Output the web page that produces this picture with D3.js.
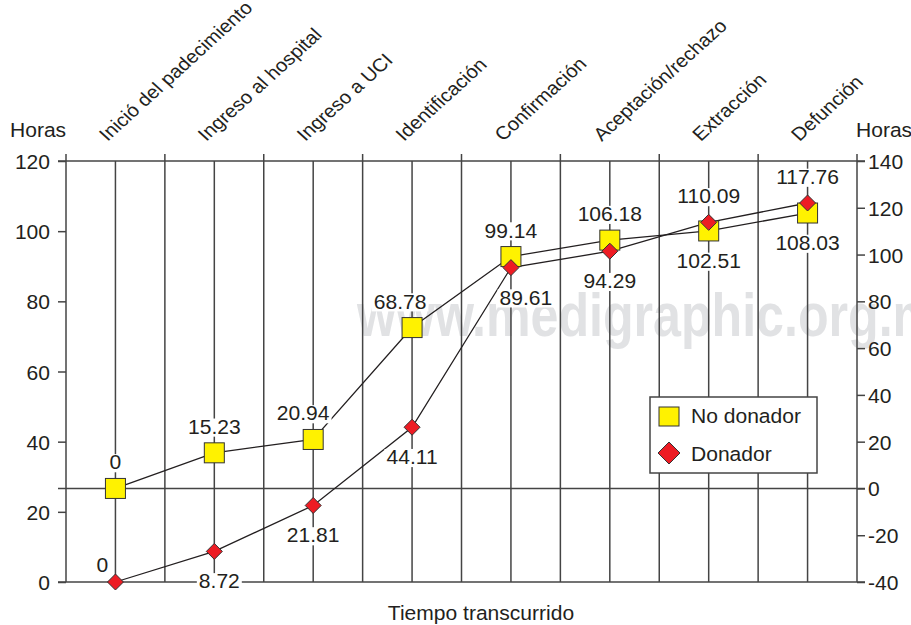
<!DOCTYPE html>
<html>
<head>
<meta charset="utf-8">
<script src="https://cdn.jsdelivr.net/npm/d3@7"></script>
<style>
  body { margin: 0; background: #fff; }
  text { font-family: "Liberation Sans", Arial, Helvetica, sans-serif; fill: #231f20; }
</style>
</head>
<body>
<div id="chart"></div>
<script>
const categories = [
    "Inició del padecimiento", "Ingreso al hospital", "Ingreso a UCI", "Identificación",
    "Confirmación", "Aceptación/rechazo", "Extracción", "Defunción"
];
const noDonador = [0, 15.23, 20.94, 68.78, 99.14, 106.18, 110.09, 117.76];   // right axis
const donador = [0, 8.72, 21.81, 44.11, 89.61, 94.29, 102.51, 108.03];       // left axis
const leftTicks = [0, 20, 40, 60, 80, 100, 120];
const rightTicks = [-40, -20, 0, 20, 40, 60, 80, 100, 120, 140];

function drawChart(containerId) {
    const W = 911, H = 625;
    const left = 66, right = 857, top = 161, bottom = 582;
    const ink = "#231f20", grid = "#444";
    const fs = 19.5, sx = 1.08;   // the source type is slightly stretched horizontally

    d3.select(`#${containerId}`).selectAll("*").remove();
    const svg = d3.select(`#${containerId}`)
        .append("svg")
        .attr("width", W)
        .attr("height", H);

    // helper: stretched text at (x, y)
    function label(g, tx, ty, str, anchor) {
        return g.append("text")
            .attr("transform", `translate(${tx},${ty}) scale(${sx},1)`)
            .attr("font-size", fs)
            .attr("text-anchor", anchor || "start")
            .text(str);
    }

    const x = d3.scalePoint().domain(categories).range([left, right]).padding(0.5);
    const yL = d3.scaleLinear().domain([0, 120]).range([bottom, top]);
    const yR = d3.scaleLinear().domain([-40, 140]).range([bottom, top]);
    const step = x.step();

    // watermark
    svg.append("text")
        .attr("x", 357).attr("y", 336)
        .attr("font-size", 62).attr("font-weight", "bold")
        .attr("textLength", 608).attr("lengthAdjust", "spacingAndGlyphs")
        .style("fill", "#e1e2e4")
        .text("www.medigraphic.org.mx");

    // vertical grid: band edges (with small top tick) and category centres
    const edges = d3.range(categories.length + 1).map(i => left + i * step);
    svg.selectAll(".edge").data(edges).join("line")
        .attr("x1", d => d).attr("x2", d => d)
        .attr("y1", top - 7).attr("y2", bottom)
        .attr("stroke", grid).attr("stroke-width", 1.5);
    svg.selectAll(".centre").data(categories).join("line")
        .attr("x1", d => x(d)).attr("x2", d => x(d))
        .attr("y1", top).attr("y2", bottom)
        .attr("stroke", grid).attr("stroke-width", 1.5);

    // horizontal frame lines + right-axis zero
    [top, bottom, yR(0)].forEach(yy => {
        svg.append("line")
            .attr("x1", left - 8).attr("x2", right + 8)
            .attr("y1", yy).attr("y2", yy)
            .attr("stroke", grid).attr("stroke-width", 1.5);
    });

    // Left axis
    const gL = svg.append("g")
        .attr("transform", `translate(${left},0)`)
        .call(d3.axisLeft(yL).tickValues(leftTicks).tickSize(8).tickPadding(8));
    // Right axis
    const gR = svg.append("g")
        .attr("transform", `translate(${right},0)`)
        .call(d3.axisRight(yR).tickValues(rightTicks).tickSize(8).tickPadding(3));
    [gL, gR].forEach(g => {
        g.select(".domain").remove();
        g.selectAll(".tick line").attr("stroke", grid).attr("stroke-width", 1.5);
        g.selectAll(".tick text").remove();
    });
    gL.selectAll(".tick").each(function (d) {
        label(d3.select(this), -16, 7.5, d, "end");
    });
    gR.selectAll(".tick").each(function (d) {
        label(d3.select(this), 11, 7.5, d, "start");
    });

    // axis titles
    label(svg, 10, 137, "Horas");
    label(svg, 856, 137, "Horas");
    label(svg, 481, 620, "Tiempo transcurrido", "middle");

    // rotated category labels
    svg.selectAll(".cat").data(categories).join("text")
        .attr("font-size", 18.5)
        .attr("transform", d => `translate(${x(d) - 8},142) scale(1.1,1) rotate(-45)`)
        .text(d => d);

    // series lines
    const lineR = d3.line().x((d, i) => x(categories[i])).y(d => yR(d));
    const lineL = d3.line().x((d, i) => x(categories[i])).y(d => yL(d));
    svg.append("path").datum(noDonador)
        .attr("fill", "none").attr("stroke", ink).attr("stroke-width", 1.3)
        .attr("d", lineR);
    svg.append("path").datum(donador)
        .attr("fill", "none").attr("stroke", ink).attr("stroke-width", 1.3)
        .attr("d", lineL);

    // value labels: No donador above the pair, Donador below the pair
    const shiftX = { "68.78": -12, "20.94": -10, "89.61": 15, "8.72": 5 };
    const labels = [];
    categories.forEach((c, i) => {
        const ys = yR(noDonador[i]), yd = yL(donador[i]);
        const cx = x(c);
        labels.push({ v: noDonador[i], x: cx, y: Math.min(ys, yd) - 19 });
        let by = Math.max(ys, yd) + 37;
        if (by > H - 20) labels.push({ v: donador[i], x: cx - 13, y: yd - 10 });
        else labels.push({ v: donador[i], x: cx, y: by });
    });
    const lg = svg.append("g");
    labels.forEach(l => {
        const txt = String(l.v);
        const tx = l.x + (shiftX[txt] || 0);
        const t = label(lg, tx, l.y, txt, "middle");
        const b = t.node().getBBox();
        lg.insert("rect", () => t.node())
            .attr("x", tx + b.x * sx - 2).attr("y", l.y + b.y + 2)
            .attr("width", b.width * sx + 4).attr("height", b.height - 3)
            .attr("fill", "#fff");
    });

    // markers
    const sq = 20, dm = 8;
    svg.selectAll(".sq").data(noDonador).join("rect")
        .attr("x", (d, i) => x(categories[i]) - sq / 2)
        .attr("y", d => yR(d) - sq / 2)
        .attr("width", sq).attr("height", sq)
        .attr("fill", "#fff200").attr("stroke", "#333").attr("stroke-width", 1);
    const diamond = (cx, cy, r) => `M${cx},${cy - r}L${cx + r},${cy}L${cx},${cy + r}L${cx - r},${cy}Z`;
    svg.selectAll(".dm").data(donador).join("path")
        .attr("d", (d, i) => diamond(x(categories[i]), yL(d), dm))
        .attr("fill", "#ed1c24").attr("stroke", "#333").attr("stroke-width", 1);

    // legend
    const leg = svg.append("g");
    leg.append("rect").attr("x", 650).attr("y", 397).attr("width", 167).attr("height", 76)
        .attr("fill", "#fff").attr("stroke", grid).attr("stroke-width", 1.5);
    leg.append("rect").attr("x", 659).attr("y", 407).attr("width", 20).attr("height", 19)
        .attr("fill", "#fff200").attr("stroke", "#333").attr("stroke-width", 1);
    leg.append("path").attr("d", diamond(669, 453, 11))
        .attr("fill", "#ed1c24").attr("stroke", "#333").attr("stroke-width", 1);
    label(leg, 691, 423, "No donador");
    label(leg, 691, 461, "Donador");
}

drawChart("chart");
</script>
</body>
</html>
